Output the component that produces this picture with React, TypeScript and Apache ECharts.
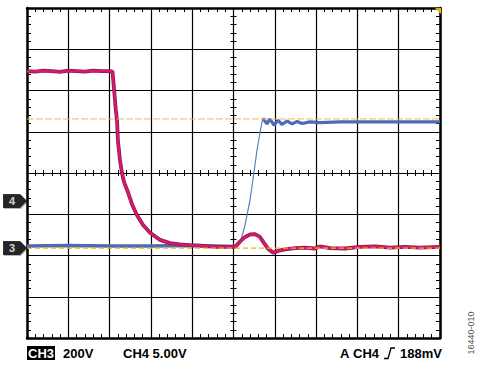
import React, { useEffect, useRef } from "react";
import * as echarts from "echarts";

// Screen units: x in horizontal divisions (0-10), y in vertical divisions (0-8)
const ch3X = [0, 0.2, 0.4, 0.6, 0.8, 1.0, 1.2, 1.4, 1.6, 1.8, 2.0, 2.07, 2.08, 2.11, 2.15, 2.18, 2.2, 2.25, 2.3, 2.35, 2.45, 2.54, 2.66, 2.81, 2.98, 3.22, 3.46, 3.7, 3.95, 4.19, 4.55, 4.99, 5.06, 5.15, 5.28, 5.4, 5.52, 5.64, 5.74, 5.84, 5.96, 6.08, 6.25, 6.49, 6.73, 6.97, 7.09, 7.34, 7.7, 8.06, 8.43, 8.79, 9.15, 9.52, 10];
const ch3Y = [6.47, 6.46, 6.48, 6.47, 6.45, 6.48, 6.47, 6.46, 6.48, 6.47, 6.47, 6.46, 6.35, 6.01, 5.53, 5.28, 4.8, 4.32, 4.0, 3.78, 3.52, 3.25, 2.98, 2.74, 2.55, 2.38, 2.3, 2.27, 2.25, 2.24, 2.21, 2.21, 2.23, 2.33, 2.45, 2.51, 2.52, 2.45, 2.3, 2.16, 2.07, 2.11, 2.15, 2.18, 2.19, 2.17, 2.22, 2.18, 2.17, 2.21, 2.22, 2.19, 2.21, 2.19, 2.21];

const ch4LowX = [0, 1, 2, 3, 4, 5.06];
const ch4LowY = [2.23, 2.24, 2.23, 2.23, 2.24, 2.22];
const ch4EdgeX = [5.06, 5.16, 5.28, 5.4, 5.47, 5.57, 5.64, 5.71];
const ch4EdgeY = [2.22, 2.3, 2.74, 3.35, 3.83, 4.56, 4.97, 5.33];
const ch4HighX = [5.71, 5.81, 5.88, 5.98, 6.08, 6.17, 6.3, 6.42, 6.54, 6.66, 6.85, 7.09, 7.58, 8.55, 10];
const ch4HighY = [5.33, 5.19, 5.31, 5.16, 5.28, 5.18, 5.26, 5.19, 5.25, 5.2, 5.24, 5.22, 5.24, 5.24, 5.24];

const refLevels = [2.18, 5.31];
const markerNames = ["4", "3"];
const markerLevels = [3.32, 2.18];

const bottomLeftTexts = ["CH3", "200V", "CH4 5.00V"];
const bottomRightTexts = ["A", "CH4", "188mV"];
const figureId = "16440-010";

const zip = (xs: number[], ys: number[]) => xs.map((x, i) => [x, ys[i]]);

const FONT = "'Liberation Sans', Arial, sans-serif";

function axis(dim: "x" | "y", position: string, opts: any) {
  return {
    type: "value",
    position,
    min: 0,
    max: dim === "x" ? 10 : 8,
    interval: 1,
    offset: opts.offset || 0,
    axisLine: {
      show: !!opts.line,
      onZero: false,
      lineStyle: { color: "#000", width: 2.5 },
    },
    axisTick: { show: false, inside: opts.inside },
    minorTick: {
      show: true,
      splitNumber: 5,
      length: opts.tickLen,
      lineStyle: { color: "#000", width: 1 },
    },
    axisLabel: { show: false },
    splitLine: { show: !!opts.split, lineStyle: { color: "#000", width: 1.2 } },
    minorSplitLine: { show: false },
  };
}

export default function App() {
  const ref = useRef<HTMLDivElement>(null);
  useEffect(() => {
    if (!ref.current) return;
    const chart = echarts.init(ref.current, null, { renderer: "svg" });
    const lineSeries = (data: number[][], color: string, width: number, z: number, extra: any = {}) => ({
      type: "line",
      data,
      symbol: "none",
      showSymbol: false,
      smooth: false,
      lineStyle: { color, width, ...extra },
      z,
      silent: true,
    });
    chart.setOption({
      animation: false,
      backgroundColor: "#fff",
      grid: { left: 27, top: 8, width: 413, height: 330, outerBoundsMode: "none" },
      xAxis: [
        axis("x", "bottom", { line: true, inside: true, tickLen: 4, split: true }),
        axis("x", "top", { line: true, inside: true, tickLen: 4 }),
        axis("x", "bottom", { offset: -165, inside: true, tickLen: 3 }),
        axis("x", "bottom", { offset: -165, inside: false, tickLen: 3 }),
      ],
      yAxis: [
        axis("y", "left", { line: true, inside: true, tickLen: 4, split: true }),
        axis("y", "right", { line: true, inside: true, tickLen: 4 }),
        axis("y", "left", { offset: -206.5, inside: true, tickLen: 3 }),
        axis("y", "left", { offset: -206.5, inside: false, tickLen: 3 }),
      ],
      series: [
        lineSeries(zip(ch4LowX, ch4LowY), "#4a6cb4", 3.5, 3),
        lineSeries(zip(ch4EdgeX, ch4EdgeY), "#5d7fc3", 1.2, 3),
        lineSeries(zip(ch4HighX, ch4HighY), "#4a6cb4", 3.2, 3),
        lineSeries(zip(ch3X, ch3Y), "#8e1a4e", 3.8, 4),
        lineSeries(zip(ch3X, ch3Y), "#d6186f", 2.4, 5),
        lineSeries([[0, refLevels[0]], [10, refLevels[0]]], "#f2b400", 1.2, 6, { type: [5, 3] }),
        lineSeries([[0, refLevels[1]], [10, refLevels[1]]], "#eebc55", 1, 6, { type: [7, 2] }),
        {
          type: "scatter",
          clip: false,
          silent: true,
          z: 7,
          symbol: "path://M0,0L17,0L24,7L17,14L0,14Z",
          symbolSize: [24, 14],
          symbolOffset: [-12, 0],
          itemStyle: { color: "#000", shadowColor: "rgba(0,0,0,0.35)", shadowBlur: 1, shadowOffsetX: 1, shadowOffsetY: 1 },
          label: {
            show: true,
            position: "inside",
            formatter: "{b}",
            color: "#fff",
            fontWeight: "bold",
            fontSize: 11,
            fontFamily: FONT,
            offset: [-3, 0],
          },
          data: markerNames.map((n, i) => ({ name: n, value: [0, markerLevels[i]] })),
        },
      ],
      graphic: [
        { type: "rect", shape: { x: 27, y: 346, width: 28, height: 14 }, style: { fill: "#000" } },
        { type: "text", x: 41, y: 353.5, style: { text: bottomLeftTexts[0], fill: "#fff", font: `bold 13px ${FONT}`, align: "center", verticalAlign: "middle" } },
        { type: "text", x: 63, y: 353.5, style: { text: bottomLeftTexts[1], fill: "#000", font: `bold 13px ${FONT}`, verticalAlign: "middle" } },
        { type: "text", x: 123, y: 353.5, style: { text: bottomLeftTexts[2], fill: "#000", font: `bold 13px ${FONT}`, verticalAlign: "middle" } },
        { type: "text", x: 340, y: 353.5, style: { text: bottomRightTexts[0], fill: "#000", font: `bold 13px ${FONT}`, verticalAlign: "middle" } },
        { type: "text", x: 353, y: 353.5, style: { text: bottomRightTexts[1], fill: "#000", font: `bold 13px ${FONT}`, verticalAlign: "middle" } },
        { type: "polyline", shape: { points: [[384, 358.5], [388, 358.5], [391, 348], [395, 348]] }, style: { stroke: "#000", lineWidth: 1.3, fill: null } },
        { type: "text", x: 400, y: 353.5, style: { text: bottomRightTexts[2], fill: "#000", font: `bold 13px ${FONT}`, verticalAlign: "middle" } },
        { type: "text", x: 471, y: 333, rotation: Math.PI / 2, style: { text: figureId, fill: "#555", font: `9px ${FONT}`, align: "center", verticalAlign: "middle" } },
        { type: "polygon", shape: { points: [[435, 8], [441, 8], [441, 14]] }, style: { fill: "#f0b000" }, z: 10 },
      ],
    });
    return () => chart.dispose();
  }, []);
  return <div ref={ref} style={{ position: "fixed", left: 0, top: 0, width: 479, height: 368, background: "#fff" }} />;
}
